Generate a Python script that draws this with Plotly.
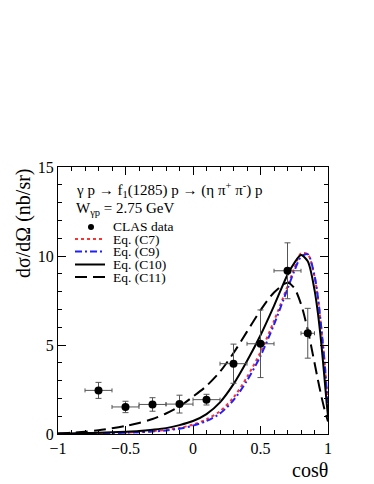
import plotly.graph_objects as go

# CLAS data
data_x = [-0.7, -0.5, -0.3, -0.1, 0.1, 0.3, 0.5, 0.7, 0.85]
data_y = [2.45, 1.52, 1.66, 1.68, 1.93, 3.95, 5.07, 9.17, 5.66]
data_xerr = [0.1, 0.1, 0.1, 0.1, 0.1, 0.1, 0.1, 0.1, 0.05]
data_yerr = [0.45, 0.32, 0.38, 0.5, 0.3, 1.1, 1.9, 1.57, 1.4]

# Model curves
curve_x = [-1, -0.9, -0.8, -0.7, -0.6, -0.5, -0.4, -0.3, -0.2, -0.1, 0, 0.1, 0.2, 0.3,
           0.4, 0.5, 0.6, 0.7, 0.75, 0.8, 0.85, 0.9, 0.925, 0.95, 0.975, 0.99, 1.0]
c7 = [0.01, 0.02, 0.03, 0.04, 0.06, 0.08, 0.11, 0.16, 0.23, 0.34, 0.53, 0.82, 1.28, 2.05,
      3.2, 4.6, 6.35, 8.3, 9.3, 10.15, 10.1, 8.85, 7.65, 5.95, 4.0, 2.5, 1.5]
c9 = [0.01, 0.02, 0.025, 0.035, 0.05, 0.07, 0.1, 0.14, 0.2, 0.3, 0.47, 0.73, 1.15, 1.9,
      3.0, 4.38, 6.15, 8.15, 9.15, 9.95, 10.1, 8.9, 7.7, 6.0, 4.0, 2.5, 1.5]
c10 = [0.02, 0.03, 0.05, 0.07, 0.1, 0.13, 0.17, 0.24, 0.33, 0.5, 0.73, 1.12, 1.78, 2.8,
       4.1, 5.55, 7.2, 8.95, 9.6, 10.05, 9.7, 8.1, 6.8, 5.1, 3.05, 1.75, 1.0]
c11 = [0.03, 0.07, 0.13, 0.21, 0.32, 0.45, 0.62, 0.84, 1.15, 1.55, 2.1, 2.7, 3.5, 4.55,
       5.75, 6.95, 7.95, 8.5, 8.2, 7.3, 5.85, 4.0, 3.05, 2.15, 1.35, 0.95, 0.7]

x_ticks = [-1, -0.5, 0, 0.5, 1]
x_ticklabels = ["\u22121", "\u22120.5", "0", "0.5", "1"]
y_ticks = [0, 5, 10, 15]

FONT = "Liberation Serif, Times New Roman, Times, serif"
DASH = "12px,6px"
DASHDOT = "7px,3px,2px,3px"

fig = go.Figure()
fig.add_trace(go.Scatter(x=curve_x, y=c7, mode="lines", line=dict(color="#ff3030", dash="dot", width=2, shape="spline", smoothing=0.8)))
fig.add_trace(go.Scatter(x=curve_x, y=c9, mode="lines", line=dict(color="#2020ff", dash=DASHDOT, width=2, shape="spline", smoothing=0.8)))
fig.add_trace(go.Scatter(x=curve_x, y=c10, mode="lines", line=dict(color="black", width=2, shape="spline", smoothing=0.8)))
fig.add_trace(go.Scatter(x=curve_x, y=c11, mode="lines", line=dict(color="black", dash=DASH, width=2, shape="spline", smoothing=0.8)))
fig.add_trace(go.Scatter(
    x=data_x, y=data_y, mode="markers",
    marker=dict(color="black", size=8),
    error_x=dict(type="data", array=data_xerr, color="#555", thickness=1, width=2),
    error_y=dict(type="data", array=data_yerr, color="#555", thickness=1, width=3),
))

# page has an 8px body margin; plot area in page pixels: x 58..328, y 167..434
OFF = 8
W, H = 374 - OFF, 484 - OFF
PX0, PX1, PY0, PY1 = 58, 328, 167, 434
L, R, T, B = PX0 - OFF, W + OFF - PX1, PY0 - OFF, H + OFF - PY1


def px(xp):
    return (xp - PX0) / (PX1 - PX0)


def py(yp):
    return (PY1 - yp) / (PY1 - PY0)


annotations = [
    dict(text="\u03b3 p \u2192 f<sub>1</sub>(1285) p \u2192 (\u03b7 \u03c0<sup>+</sup> \u03c0<sup>-</sup>) p",
         x=px(74), y=py(190), xanchor="left", yanchor="middle", font=dict(size=15)),
    dict(text="W<sub>\u03b3p</sub> = 2.75 GeV", x=px(74), y=py(209), xanchor="left", yanchor="middle", font=dict(size=15)),
    dict(text="CLAS data", x=px(111), y=py(226), xanchor="left", yanchor="middle", font=dict(size=13.5)),
    dict(text="Eq. (C7)", x=px(111), y=py(239), xanchor="left", yanchor="middle", font=dict(size=13.5)),
    dict(text="Eq. (C9)", x=px(111), y=py(251.5), xanchor="left", yanchor="middle", font=dict(size=13.5)),
    dict(text="Eq. (C10)", x=px(111), y=py(264.5), xanchor="left", yanchor="middle", font=dict(size=13.5)),
    dict(text="Eq. (C11)", x=px(111), y=py(277), xanchor="left", yanchor="middle", font=dict(size=13.5)),
    dict(text="cos\u03b8", x=px(330), y=py(470), xanchor="right", yanchor="middle", font=dict(size=20)),
    dict(text="d\u03c3/d\u03a9 (nb/sr)", x=px(23), y=py(166), xanchor="center", yanchor="top",
         textangle=-90, font=dict(size=20)),
]
for a in annotations:
    a.update(xref="paper", yref="paper", showarrow=False)

shapes = [
    dict(type="line", x0=px(75), x1=px(105), y0=py(239), y1=py(239), line=dict(color="#ff3030", dash="dot", width=2)),
    dict(type="line", x0=px(75), x1=px(105), y0=py(251.5), y1=py(251.5), line=dict(color="#2020ff", dash=DASHDOT, width=2)),
    dict(type="line", x0=px(75), x1=px(105), y0=py(264.5), y1=py(264.5), line=dict(color="black", width=2)),
    dict(type="line", x0=px(75), x1=px(105), y0=py(277), y1=py(277), line=dict(color="black", dash=DASH, width=2)),
    dict(type="circle", x0=px(88), x1=px(94), y0=py(224), y1=py(230), fillcolor="black", line=dict(color="black", width=0)),
]
for s in shapes:
    s.update(xref="paper", yref="paper")

axis_common = dict(ticks="inside", ticklen=8, tickcolor="black", showline=True, linecolor="black",
                   linewidth=1, mirror="allticks", showgrid=False, zeroline=False,
                   tickfont=dict(size=16, family=FONT), automargin=False)

fig.update_layout(
    width=W, height=H, margin=dict(l=L, r=R, t=T, b=B),
    paper_bgcolor="white", plot_bgcolor="white", showlegend=False,
    font=dict(family=FONT, color="black", size=14),
    annotations=annotations, shapes=shapes,
    xaxis=dict(range=[-1, 1], tickvals=x_ticks, ticktext=x_ticklabels,
               minor=dict(dtick=0.1, ticks="inside", ticklen=4, tickcolor="black", showgrid=False),
               **axis_common),
    yaxis=dict(range=[0, 15], tickvals=y_ticks,
               minor=dict(dtick=1, ticks="inside", ticklen=4, tickcolor="black", showgrid=False),
               **axis_common),
)

fig.write_html("out.html")
